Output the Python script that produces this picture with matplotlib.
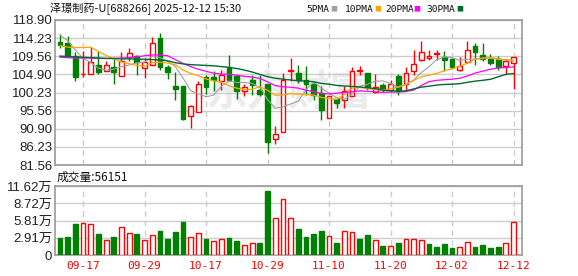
import matplotlib
matplotlib.use('Agg')
import matplotlib.pyplot as plt
import numpy as np

plt.rcParams['font.family'] = ['Noto Sans CJK SC', 'DejaVu Sans']

# daily K-line, 60 trading days (09-12 .. 12-12)
opens = [113.24, 112.98, 109.55, 104.90, 105.10, 107.23, 105.86, 106.70, 104.40, 109.46,
         109.55, 106.55, 107.40, 114.27, 106.70, 101.90, 101.90, 94.10, 95.13, 104.14,
         104.20, 103.10, 106.54, 104.50, 100.54, 103.46, 100.97, 102.50, 88.35, 90.00,
         105.86, 105.26, 103.46, 102.40, 100.10, 93.67, 98.48, 98.40, 99.25, 105.85,
         105.26, 100.40, 102.17, 100.97, 104.50, 102.50, 105.70, 108.70, 109.10, 110.20,
         109.30, 108.95, 106.10, 108.00, 112.10, 109.80, 108.70, 108.70, 107.15, 107.80]
highs = [115.30, 114.70, 110.60, 110.80, 111.95, 110.80, 108.40, 108.95, 110.66, 111.70,
         109.80, 109.10, 114.50, 115.55, 107.40, 105.50, 101.90, 97.10, 103.30, 104.80,
         105.70, 106.10, 109.80, 104.66, 102.30, 104.80, 104.80, 102.50, 91.50, 105.30,
         109.10, 107.40, 107.00, 102.70, 101.80, 99.17, 98.56, 101.80, 106.70, 107.10,
         105.30, 105.00, 102.70, 103.45, 105.00, 106.80, 111.10, 113.40, 111.10, 111.10,
         111.00, 109.10, 109.30, 113.40, 113.00, 113.00, 110.10, 109.55, 108.95, 109.40]
lows = [111.70, 109.80, 103.10, 104.10, 105.10, 105.00, 105.70, 102.50, 104.40, 108.40,
        104.80, 104.00, 107.40, 106.10, 103.70, 98.40, 93.07, 91.10, 95.13, 99.85,
        100.50, 100.80, 103.10, 98.65, 99.25, 99.50, 99.25, 84.66, 87.00, 90.00,
        103.10, 102.70, 99.70, 98.40, 93.20, 93.67, 96.25, 96.25, 99.25, 104.66,
        101.00, 100.10, 100.40, 100.40, 99.70, 101.00, 104.80, 108.40, 108.70, 108.70,
        105.70, 106.40, 105.70, 107.80, 107.40, 108.26, 107.40, 106.10, 105.10, 101.20]
closes = [112.55, 109.98, 104.14, 105.00, 108.10, 105.40, 107.23, 105.40, 108.26, 110.32,
          108.10, 108.09, 113.00, 106.70, 105.50, 101.20, 93.50, 96.68, 102.50, 101.74,
          103.45, 104.80, 103.50, 100.60, 101.65, 102.26, 99.90, 87.60, 89.40, 103.54,
          105.95, 103.54, 102.34, 99.50, 95.65, 99.17, 97.60, 100.70, 105.70, 105.95,
          101.74, 101.60, 101.05, 102.40, 100.97, 105.26, 107.60, 110.66, 109.70, 110.30,
          108.70, 106.70, 107.15, 111.10, 110.66, 108.90, 107.90, 106.70, 108.40, 109.40]

ma5 = [115.0, 113.6, 111.2, 109.0, 107.95, 106.52, 105.97, 106.23, 106.88, 107.32,
       107.86, 108.03, 109.55, 109.24, 108.28, 106.90, 103.98, 100.72, 99.88, 99.12,
       99.57, 101.83, 103.20, 102.82, 102.80, 102.56, 101.58, 98.40, 96.16, 96.54,
       97.28, 98.00, 100.95, 102.97, 101.40, 100.04, 98.85, 98.52, 99.76, 101.82,
       102.34, 103.14, 103.21, 102.55, 101.55, 102.26, 103.46, 105.38, 106.84, 108.70,
       109.39, 109.21, 108.51, 108.79, 108.86, 108.90, 109.14, 109.05, 108.51, 108.26]
ma10 = [112.3, 111.9, 111.8, 111.8, 111.9, 110.8, 109.8, 108.8, 108.1, 107.64,
        107.19, 107.00, 107.89, 108.06, 107.80, 107.38, 106.01, 105.14, 104.56, 103.70,
        103.24, 102.91, 101.96, 101.35, 100.96, 101.07, 101.71, 100.80, 99.49, 99.67,
        99.92, 99.79, 99.68, 99.57, 98.97, 98.66, 98.43, 99.74, 101.37, 101.61,
        101.19, 101.00, 100.87, 101.16, 101.69, 102.30, 103.30, 104.29, 104.69, 105.13,
        105.82, 106.33, 106.94, 107.81, 108.78, 109.15, 109.18, 108.78, 108.65, 108.56]
ma20 = [109.3, 109.2, 109.1, 109.1, 109.1, 109.0, 109.0, 109.0, 109.1, 109.2,
        109.4, 109.7, 109.9, 109.9, 109.7, 108.7, 107.7, 106.9, 106.2, 105.67,
        105.21, 104.96, 104.92, 104.70, 104.38, 104.22, 103.86, 102.97, 102.02, 101.69,
        101.58, 101.35, 100.82, 100.46, 99.97, 99.86, 100.07, 100.27, 100.43, 100.64,
        100.55, 100.39, 100.27, 100.36, 100.33, 100.48, 100.86, 102.02, 103.03, 103.37,
        103.51, 103.66, 103.90, 104.49, 105.24, 105.72, 106.24, 106.54, 106.67, 106.84]
ma30 = [109.6, 109.5, 109.4, 109.3, 109.2, 109.1, 109.0, 109.0, 108.9, 108.9,
        108.8, 108.8, 108.7, 108.6, 108.4, 107.9, 107.6, 107.4, 107.3, 107.2,
        107.1, 106.9, 106.7, 106.4, 106.0, 105.5, 104.9, 104.3, 103.9, 103.67,
        103.45, 103.24, 103.18, 102.99, 102.58, 102.37, 102.05, 101.89, 101.81, 101.66,
        101.45, 101.23, 100.83, 100.69, 100.54, 100.67, 101.14, 101.61, 101.85, 102.14,
        102.31, 102.37, 102.50, 102.85, 103.15, 103.37, 103.63, 104.27, 104.90, 105.10]

# volume in 万
volume = [2.86, 3.03, 5.27, 5.39, 5.22, 3.59, 2.52, 3.03, 4.66, 3.70,
          3.53, 2.52, 3.31, 4.04, 2.69, 3.93, 5.55, 2.97, 3.70, 2.69,
          2.36, 2.64, 2.86, 2.36, 1.63, 1.96, 2.02, 10.77, 6.17, 9.37,
          6.17, 4.38, 3.03, 3.53, 4.04, 3.14, 2.02, 3.98, 3.81, 2.69,
          3.31, 2.47, 1.51, 1.46, 2.02, 2.64, 2.64, 2.47, 1.80, 1.35,
          1.80, 1.18, 1.29, 2.13, 1.35, 1.63, 1.18, 1.29, 1.96, 5.6151]
vol_up = [0, 0, 0, 1, 1, 0, 1, 0, 1, 1,
          0, 1, 1, 0, 0, 0, 0, 1, 1, 0,
          1, 1, 0, 0, 1, 1, 0, 0, 1, 1,
          1, 0, 0, 0, 0, 1, 0, 1, 1, 0,
          0, 1, 0, 1, 0, 1, 1, 1, 0, 0,
          0, 0, 1, 1, 0, 0, 0, 0, 1, 1]

tick_idx = [3, 11, 19, 27, 35, 43, 51, 59]
tick_labels = ['09-17', '09-29', '10-17', '10-29', '11-10', '11-20', '12-02', '12-12']
price_ticks = [81.56, 86.23, 90.90, 95.56, 100.23, 104.90, 109.56, 114.23, 118.90]
vol_ticks = [0, 2.91, 5.81, 8.72, 11.62]
vol_tick_labels = ['0', '2.91万', '5.81万', '8.72万', '11.62万']

RED = '#ff0000'
GREEN = '#008000'
W, H = 578, 276

fig = plt.figure(figsize=(W / 100, H / 100), dpi=100)
ax = fig.add_axes([55 / W, 1 - 165 / H, 467 / W, 145 / H])
axv = fig.add_axes([55 / W, 1 - 255 / H, 467 / W, 69 / H])

x = np.arange(len(closes))
o = np.array(opens); c = np.array(closes)
up = c >= o
col = np.where(up, RED, GREEN)

# watermark
ax.text(0.5, 0.5, '东方财富', transform=ax.transAxes, ha='center', va='center',
        fontsize=30, fontweight='bold', color='#ebebeb', zorder=0)

ax.vlines(x, lows, highs, colors=col, lw=1, zorder=3)
ax.bar(x, np.abs(c - o) + 0.03, bottom=np.minimum(o, c), width=0.62,
       facecolor=np.where(up, 'white', GREEN), edgecolor=col, lw=1, zorder=4)

ax.plot(x, ma5, color='#a0a0a0', lw=0.8, zorder=5)
ax.plot(x, ma10, color='#ffa500', lw=0.9, zorder=5)
ax.plot(x, ma20, color='#ff00ff', lw=0.9, zorder=5)
ax.plot(x, ma30, color='#006b2d', lw=1.0, zorder=5)

vup = np.array(vol_up) == 1
axv.bar(x, volume, width=0.62, facecolor=np.where(vup, 'white', GREEN),
        edgecolor=np.where(vup, RED, GREEN), lw=1, zorder=3)

for a in (ax, axv):
    a.set_xlim(-0.65, 60.1)
    a.set_xticks(tick_idx)
    a.grid(axis='x', color='#cccccc', linestyle=(0, (4, 3)), lw=1)
    a.grid(axis='y', color='#cccccc', lw=1)
    a.set_axisbelow(True)
    for s in a.spines.values():
        s.set_color('#999999')
        s.set_linewidth(1.2)
    a.tick_params(length=0, pad=2, labelsize=9.5, labelcolor='#222222')

ax.set_ylim(81.56, 118.90)
ax.set_yticks(price_ticks)
ax.set_yticklabels(['%.2f' % v for v in price_ticks], family=['Liberation Sans', 'Noto Sans CJK SC'])
ax.set_xticklabels([])

axv.set_ylim(0, 11.62)
axv.set_yticks(vol_ticks)
axv.set_yticklabels(vol_tick_labels, family=['Liberation Sans', 'Noto Sans CJK SC'])
axv.set_xticklabels(tick_labels, color=RED, fontsize=8, family='DejaVu Sans Mono')
axv.tick_params(axis='x', pad=4)

fig.text(50 / W, 1 - 9 / H, '泽璟制药-U[688266] 2025-12-12 15:30', fontsize=8,
         va='center', ha='left', color='#111111')
# legend: name, colour, text x, square x (pixels)
leg = [('5PMA', '#a0a0a0', 306, 330), ('10PMA', '#ffa500', 345, 374),
       ('20PMA', '#ff00ff', 385, 413), ('30PMA', '#006b2d', 426, 456)]
for name, lc, tx, sx in leg:
    fig.text(tx / W, 1 - 9 / H, name, fontsize=6.8, va='center', ha='left',
             family='DejaVu Sans Mono', color='#111111')
    fig.text(sx / W, 1 - 9 / H, '■', fontsize=5, va='center', ha='left', color=lc)

fig.text(57 / W, 1 - 177 / H, '成交量:56151', fontsize=8.5, va='center', ha='left',
         color='#111111')

fig.savefig('out.png', dpi=100)
